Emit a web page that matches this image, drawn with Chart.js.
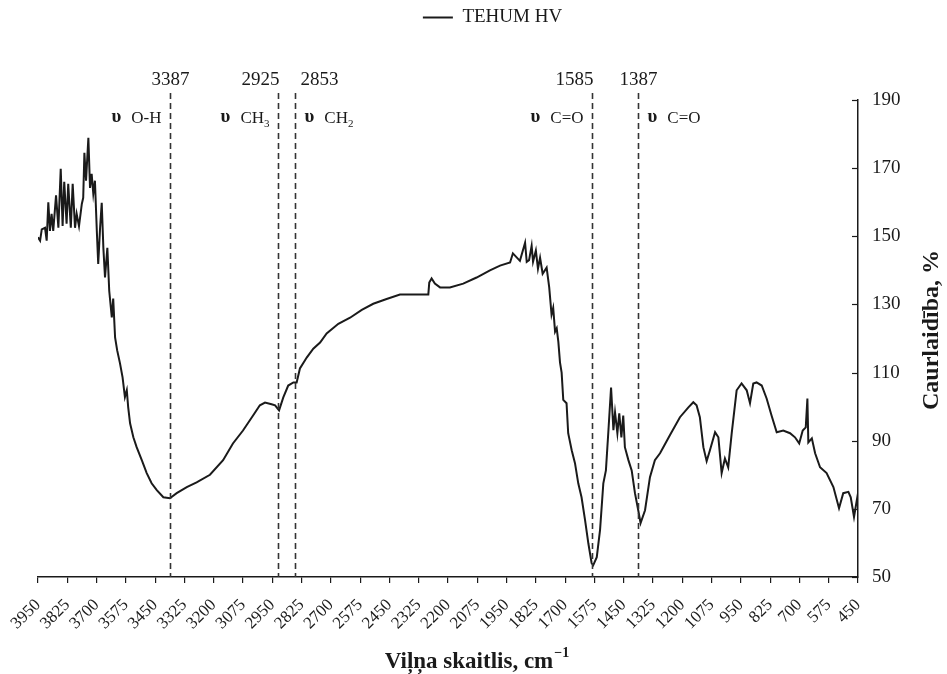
<!DOCTYPE html>
<html>
<head>
<meta charset="utf-8">
<script src="https://cdn.jsdelivr.net/npm/chart.js@4.4.1/dist/chart.umd.min.js"></script>
<style>
  html, body { margin: 0; padding: 0; background: #fff; }
  #wrap { width: 947px; height: 674px; }
</style>
</head>
<body>
<div id="wrap"><canvas id="ftir"></canvas></div>
<script>
// FTIR spectrum, values
const wavenumber = [
  3950, 3941, 3934, 3920, 3913, 3906, 3899, 3892, 3885, 3873,
  3863, 3853, 3845, 3838, 3828, 3821, 3810, 3802, 3792, 3785,
  3775, 3763, 3757, 3752, 3745, 3735, 3728, 3721, 3714, 3707,
  3699, 3693, 3685, 3678, 3671, 3664, 3654, 3646, 3635, 3629,
  3621, 3612, 3600, 3589, 3579, 3571, 3565, 3557, 3543, 3529,
  3507, 3486, 3465, 3443, 3415, 3387, 3358, 3315, 3273, 3216,
  3160, 3118, 3075, 3032, 3003, 2981, 2953, 2938, 2921, 2903,
  2882, 2860, 2846, 2832, 2803, 2775, 2746, 2718, 2668, 2618,
  2568, 2519, 2462, 2405, 2284, 2280, 2270, 2256, 2234, 2192,
  2135, 2078, 2021, 1978, 1935, 1923, 1893, 1871, 1864, 1854,
  1843, 1837, 1825, 1816, 1807, 1796, 1779, 1768, 1758, 1751,
  1743, 1736, 1729, 1722, 1715, 1708, 1694, 1687, 1672, 1658,
  1644, 1630, 1615, 1601, 1587, 1580, 1565, 1551, 1537, 1526,
  1516, 1504, 1494, 1487, 1477, 1469, 1460, 1452, 1445, 1430,
  1416, 1402, 1388, 1378, 1359, 1338, 1317, 1295, 1281, 1253,
  1210, 1174, 1153, 1139, 1125, 1110, 1096, 1082, 1060, 1046,
  1032, 1018, 1004, 989, 968, 947, 925, 911, 897, 883,
  861, 840, 819, 797, 769, 740, 719, 701, 686, 673,
  666, 662, 647, 633, 612, 584, 555, 531, 513, 491,
  481, 467, 450
]
const transmittance = [
  149.7, 148.7, 152, 152.5, 148.7, 160, 151.6, 156.6, 151.6, 162,
  152.5, 169.8, 153, 166, 153.7, 165.4, 152.5, 165.4, 152.5, 156.6,
  153, 159.5, 161.3, 174.5, 166.3, 178.9, 164.2, 168.3, 162.5, 166.3,
  151.6, 141.9, 152.5, 159.8, 146.6, 137.9, 146.6, 134, 126.2, 131.7,
  120.3, 116.5, 112.7, 108.6, 102.8, 104.8, 99.8, 95.1, 91, 88.1,
  84.3, 80.5, 77.5, 75.5, 73.4, 73.1, 74.6, 76.4, 77.8, 80,
  84.3, 89.2, 93, 97.4, 100.4, 101.2, 100.7, 100.4, 98.9, 102.7,
  106.2, 107.1, 107.1, 111.2, 114.4, 117, 118.8, 121.5, 124.3, 126.1,
  128.4, 130.2, 131.6, 132.9, 132.9, 136.4, 137.6, 136.1, 135, 135,
  136.1, 137.9, 140, 141.4, 142.3, 145, 142.8, 148.1, 142.5, 143,
  147.2, 142.5, 145.8, 140.5, 143.7, 139, 140.8, 135, 127, 129,
  122, 123, 119, 113, 110, 102, 101, 92.2, 87.2, 83.4,
  77.5, 73.4, 66.7, 59.9, 54.1, 53.5, 55.8, 63.8, 77.5, 81.3,
  92.2, 105.6, 93.1, 98.3, 92.2, 98, 91, 97.4, 88.1, 84.3,
  81.3, 74.6, 69.6, 65.8, 69.6, 79.3, 84.3, 86.3, 88.1, 91.6,
  96.9, 99.8, 101.3, 100.4, 96.9, 88.1, 84, 87.2, 92.5, 91,
  80.5, 84.8, 82.2, 92.2, 104.8, 106.8, 104.8, 101, 106.8, 107.1,
  106.2, 102.4, 97.4, 92.5, 93, 92.2, 91, 89.2, 93, 93.9,
  102.4, 89.5, 90.7, 86.3, 82.2, 80.5, 76.4, 70.2, 74.6, 75,
  73.4, 67.6, 74.6
]
const seriesName = 'TEHUM HV'

// marked absorption bands
const peakWavenumbers = [3387, 2925, 2853, 1585, 1387]
const peakBonds = ['O-H', 'CH', 'CH', 'C=O', 'C=O']
const peakSubscripts = ['', '3', '2', '', '']
const peakTextSide = ['left', 'left', 'right', 'left', 'right']
const peakNumberAlign = ['center', 'right', 'left', 'right', 'center']

const X_MIN = 450, X_MAX = 3950, X_STEP = 125
const Y_MIN = 50, Y_MAX = 190, Y_STEP = 20
const X_TITLE = 'Viļņa skaitlis, cm'
const X_TITLE_SUP = '−1'
const Y_TITLE = 'Caurlaidība, %'

const FONT = '"Liberation Serif", "Times New Roman", serif'
const INK = '#1a1a1a'

// dashed band lines, their labels, axis titles, inward y ticks
const bandMarks = {
  id: 'bandMarks',
  afterDraw(chart) {
    const { ctx, chartArea: a, scales: { x, y } } = chart
    ctx.save()

    // inward ticks on the right axis
    ctx.strokeStyle = INK
    ctx.lineWidth = 1.2
    for (let v = Y_MIN; v <= Y_MAX; v += Y_STEP) {
      const py = Math.round(y.getPixelForValue(v)) + 0.5
      ctx.beginPath(); ctx.moveTo(a.right - 6, py); ctx.lineTo(a.right, py); ctx.stroke()
    }

    peakWavenumbers.forEach((wn, i) => {
      const px = Math.round(x.getPixelForValue(wn)) + 0.5

      ctx.strokeStyle = '#333'
      ctx.lineWidth = 1.6
      ctx.setLineDash([6, 4])
      ctx.beginPath(); ctx.moveTo(px, a.top - 7); ctx.lineTo(px, a.bottom); ctx.stroke()
      ctx.setLineDash([])

      // wavenumber above the line
      ctx.fillStyle = INK
      ctx.font = '19px ' + FONT
      ctx.textBaseline = 'middle'
      const al = peakNumberAlign[i]
      ctx.textAlign = al
      const nx = al === 'center' ? px : al === 'right' ? px + 1 : px + 5
      ctx.fillText(String(wn), nx, a.top - 20)

      // "υ bond" label
      const uFont = 'bold 19px ' + FONT
      const bFont = '17px ' + FONT
      const sFont = '11px ' + FONT
      ctx.textAlign = 'left'
      ctx.font = uFont; const wu = ctx.measureText('υ').width
      ctx.font = bFont; const wb = ctx.measureText(peakBonds[i]).width
      ctx.font = sFont; const ws = peakSubscripts[i] ? ctx.measureText(peakSubscripts[i]).width : 0
      const gap = 10
      const total = wu + gap + wb + ws
      let sx = peakTextSide[i] === 'left' ? px - 9 - total : px + 9
      const ty = a.top + 18
      ctx.font = uFont; ctx.fillText('υ', sx, ty - 1)
      sx += wu + gap
      ctx.font = bFont; ctx.fillText(peakBonds[i], sx, ty + 1)
      sx += wb
      if (ws) { ctx.font = sFont; ctx.fillText(peakSubscripts[i], sx, ty + 6) }
    })

    // y title, reading bottom to top
    ctx.fillStyle = INK
    ctx.save()
    ctx.translate(932, 330)
    ctx.rotate(-Math.PI / 2)
    ctx.font = 'bold 24px ' + FONT
    ctx.textAlign = 'center'
    ctx.textBaseline = 'middle'
    ctx.fillText(Y_TITLE, 0, 0)
    ctx.restore()

    // x title with superscript
    ctx.font = 'bold 23px ' + FONT
    const wMain = ctx.measureText(X_TITLE).width
    ctx.font = 'bold 14px ' + FONT
    const wSup = ctx.measureText(X_TITLE_SUP).width
    const startX = 477 - (wMain + wSup + 1) / 2
    ctx.textAlign = 'left'
    ctx.textBaseline = 'alphabetic'
    ctx.font = 'bold 23px ' + FONT
    ctx.fillText(X_TITLE, startX, 668)
    ctx.font = 'bold 14px ' + FONT
    ctx.fillText(X_TITLE_SUP, startX + wMain + 1, 657)

    ctx.restore()
  }
}

new Chart(document.getElementById('ftir'), {
  type: 'line',
  data: {
    datasets: [{
      label: seriesName,
      data: wavenumber.map((w, i) => ({ x: w, y: transmittance[i] })),
      borderColor: INK,
      backgroundColor: INK,
      borderWidth: 2,
      pointRadius: 0,
      tension: 0,
      fill: false,
    }],
  },
  options: {
    responsive: true,
    maintainAspectRatio: false,
    animation: false,
    layout: { padding: { top: 2, left: 38, right: 0, bottom: 0 } },
    plugins: {
      legend: {
        position: 'top',
        labels: {
          usePointStyle: true,
          pointStyle: 'line',
          pointStyleWidth: 30,
          padding: 6,
          color: INK,
          font: { family: FONT, size: 19 },
        },
      },
      // empty spacer between legend and plot
      title: { display: true, text: '', weight: 500, font: { size: 1, lineHeight: 1 }, padding: { top: 0, bottom: 62 } },
      tooltip: { enabled: false },
    },
    scales: {
      x: {
        type: 'linear',
        reverse: true,
        min: X_MIN,
        max: X_MAX,
        grid: { drawOnChartArea: false, drawTicks: true, tickLength: 6, color: INK, lineWidth: 1.2 },
        border: { color: INK, width: 1.5 },
        ticks: {
          stepSize: X_STEP,
          autoSkip: false,
          minRotation: 45,
          maxRotation: 45,
          padding: 12,
          color: INK,
          font: { family: FONT, size: 17 },
          callback: v => String(v),
        },
        afterFit(s) { s.height = 97; s.paddingLeft = 0; s.paddingRight = 0 },
      },
      y: {
        position: 'right',
        min: Y_MIN,
        max: Y_MAX,
        grid: { drawOnChartArea: false, drawTicks: false },
        border: { color: INK, width: 1.5 },
        ticks: {
          stepSize: Y_STEP,
          padding: 14,
          color: INK,
          font: { family: FONT, size: 19 },
          callback: v => String(v),
        },
        afterFit(s) { s.width = 89; s.paddingTop = 0; s.paddingBottom = 0 },
      },
    },
  },
  plugins: [bandMarks],
})
</script>
</body>
</html>
